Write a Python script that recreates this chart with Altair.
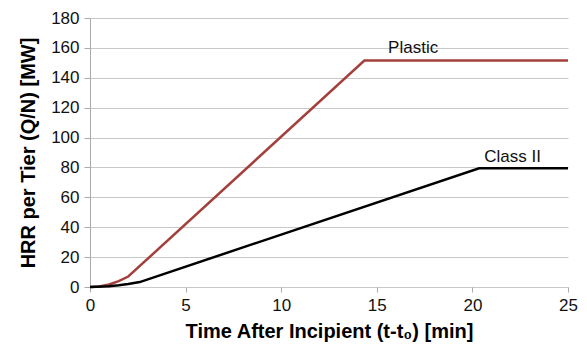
import altair as alt
import pandas as pd

plastic_t = [0, 0.5, 1.0, 1.5, 2.0, 14.35, 25]
plastic_q = [0, 0.4, 1.7, 3.9, 7.0, 151.5, 151.5]
class2_t = [0, 1.0, 1.5, 2.0, 2.6, 20.35, 25]
class2_q = [0, 0.5, 1.1, 2.0, 3.3, 79.5, 79.5]

labels = ["Plastic", "Class II"]
label_t = [16.9, 22.1]
label_q = [160, 87]
x_ticks = [0, 5, 10, 15, 20, 25]
y_ticks = [0, 20, 40, 60, 80, 100, 120, 140, 160, 180]

df = pd.DataFrame(
    {"t": plastic_t + class2_t,
     "q": plastic_q + class2_q,
     "s": ["Plastic"] * len(plastic_t) + ["Class II"] * len(class2_t)}
)
lab = pd.DataFrame({"t": label_t, "q": label_q, "s": labels})

xs = alt.Scale(domain=[0, 25], nice=False)
ys = alt.Scale(domain=[0, 180], nice=False)
color = alt.Scale(domain=["Plastic", "Class II"], range=["#a3403c", "#000000"])

x_axis = alt.Axis(title="Time After Incipient (t-t₀) [min]", values=x_ticks,
                  grid=False, domain=False, tickColor="#aaaaaa", tickSize=5,
                  labelPadding=5, titlePadding=8, labelOverlap=False, labelFlush=False)
y_axis = alt.Axis(title="HRR per Tier (Q/N) [MW]", values=y_ticks,
                  grid=True, gridColor="#c8c8c8", domain=True, domainColor="#aaaaaa",
                  tickColor="#aaaaaa", tickSize=6, labelPadding=5, titlePadding=12,
                  labelOverlap=False, labelFlush=False)

lines = alt.Chart(df).mark_line(strokeWidth=2.5).encode(
    x=alt.X("t:Q", scale=xs, axis=x_axis),
    y=alt.Y("q:Q", scale=ys, axis=y_axis),
    color=alt.Color("s:N", scale=color, legend=None),
    detail="s:N",
)

text = alt.Chart(lab).mark_text(fontSize=17, font="Liberation Sans", color="#111111").encode(
    x=alt.X("t:Q", scale=xs, axis=x_axis), y=alt.Y("q:Q", scale=ys, axis=y_axis), text="s:N"
)

chart = (lines + text).properties(
    width=478, height=269,
    autosize=alt.AutoSizeParams(type="none"),
    padding={"left": 82, "top": 10, "right": 11, "bottom": 55},
).configure_view(stroke=None).configure_axis(
    labelFont="Liberation Sans", labelFontSize=17, labelColor="#111111",
    titleFont="Liberation Sans", titleFontSize=20, titleFontWeight="bold", titleColor="#000000",
)

chart.save("out.html", embed_options={"renderer": "svg", "actions": False})
